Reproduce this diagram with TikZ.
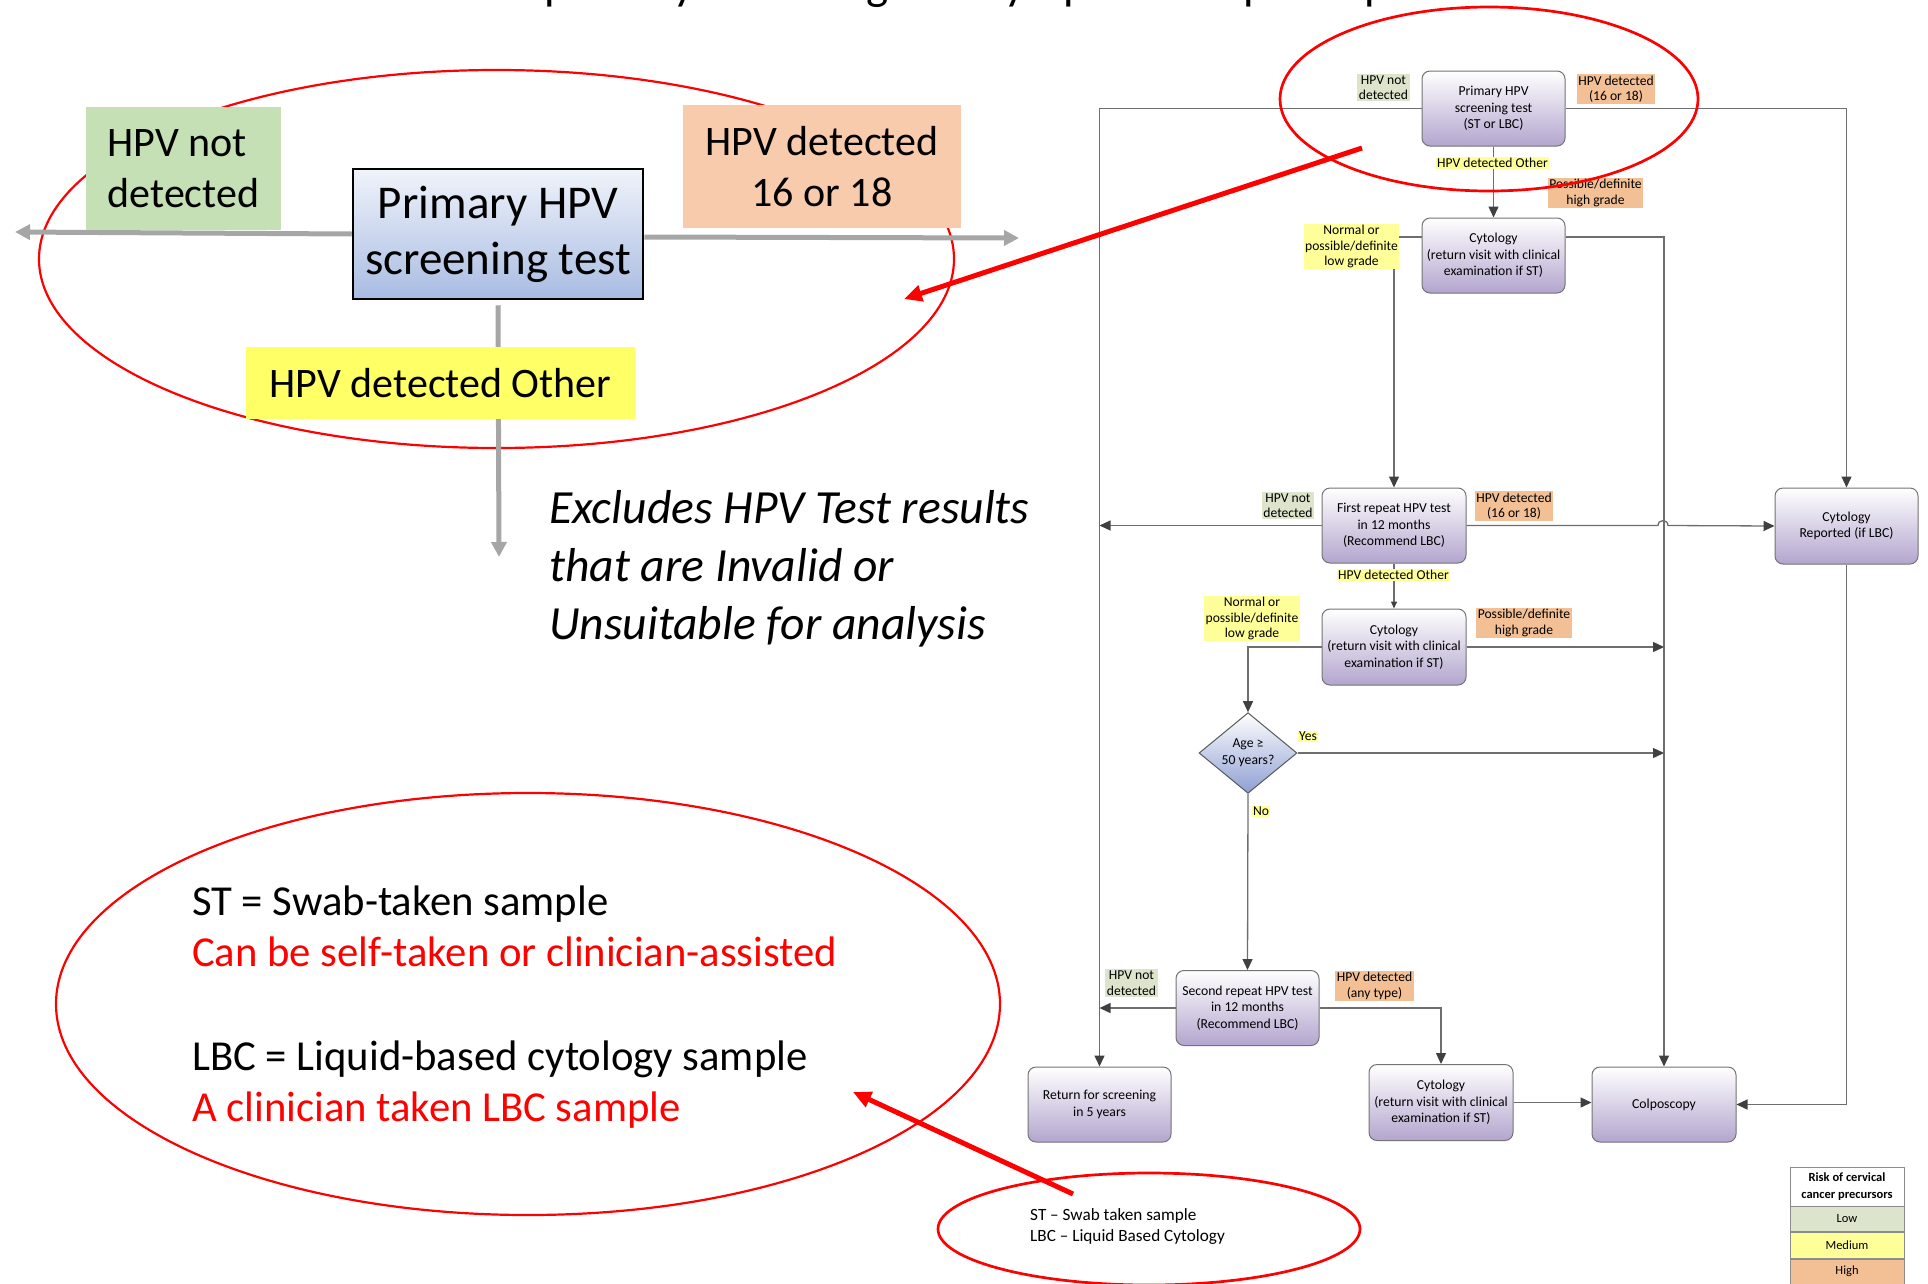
\documentclass[tikz,border=0pt]{standalone}
\usepackage{fontspec}
\setmainfont{Carlito}
\usetikzlibrary{arrows.meta,shapes.geometric}

\definecolor{lowc}{HTML}{DCE4CB}
\definecolor{medc}{HTML}{FFFF99}
\definecolor{highc}{HTML}{F3BF95}
\definecolor{lavb}{HTML}{B3A5CE}
\definecolor{diab}{HTML}{8E9FD3}
\definecolor{flowc}{HTML}{6E6E6E}
\definecolor{tipc}{HTML}{404040}
\definecolor{gbig}{HTML}{A6A6A6}
\definecolor{bgreen}{HTML}{C5E0B4}
\definecolor{bpeach}{HTML}{F8CBAD}
\definecolor{byellow}{HTML}{FFFF66}
\definecolor{mtop}{HTML}{F0F3FA}
\definecolor{mbot}{HTML}{A8BCE2}

\newcommand\fsz[2]{\fontsize{#1}{#2}\selectfont}

\begin{document}
\begin{tikzpicture}[x=1pt,y=-1pt,
  fbox/.style={draw=black!55, line width=1pt, rounded corners=8pt,
    top color=white, bottom color=lavb, minimum width=143pt,
    minimum height=75pt, align=center, inner sep=1pt, font=\fsz{13.7}{16.5}},
  lab/.style={align=center, inner sep=1.5pt, font=\fsz{13.6}{15.5}},
  flowline/.style={draw=flowc, line width=1.3pt},
  flowarr/.style={flowline, -{Triangle[length=11pt,width=10pt,color=tipc]}},
  smallarr/.style={flowline, -{Triangle[length=7pt,width=6pt,color=tipc]}},
  bigbox/.style={align=center, inner sep=0pt, font=\fsz{42}{51}},
  greyarr/.style={draw=gbig, line width=5pt, -{Triangle[length=15pt,width=15pt]}},
  redarr/.style={draw=red, line width=5pt, -{Triangle[length=18pt,width=16pt]}},
  redring/.style={draw=red, line width=2.5pt},
  legcell/.style={draw=black!45, line width=0.8pt, minimum width=114pt, align=center, inner sep=0pt, font=\fsz{12.5}{16.5}}
]
\useasboundingbox (0,0) rectangle (1928,1283);

% title, mostly above the page edge
\node (ttl) [anchor=base, font=\fsz{47}{52}] at (962,-1) {HPV primary screening for asymptomatic participants};

% ---------- left summary ----------
\draw[redring, line width=2.2pt] (496.5,259) ellipse [x radius=457.5, y radius=189];

\node (mainbox) [draw=black, line width=2.5pt, top color=mtop, bottom color=mbot,
  minimum width=290pt, minimum height=130pt, align=center, inner sep=0pt,
  font=\fsz{47}{56}] at (498,234) {Primary HPV\\screening test};

\coordinate (gl) at (15,232);
\coordinate (gr) at (1019,238);
\coordinate (gd) at (499,557);
\draw[greyarr] (mainbox.west) -- (gl);
\draw[greyarr] (mainbox.east |- 0,237) -- (gr);
\draw[greyarr, shorten <=5pt] (mainbox.south) -- (gd);

\node (gnot) [bigbox, fill=bgreen, minimum width=195pt, minimum height=123pt, align=left] at (183.5,168.5) {HPV not\\detected};
\node (gdet) [bigbox, fill=bpeach, minimum width=278pt, minimum height=123pt] at (822,166.5) {HPV detected\\16 or 18};
\node (goth) [bigbox, fill=byellow, minimum width=389pt, minimum height=72pt] at (440.5,383) {HPV detected Other};

\node (excl) [anchor=north west, align=left, inner sep=0pt, font=\itshape\fsz{47.6}{58}] at (549,490)
  {Excludes HPV Test results\\that are Invalid or\\Unsuitable for analysis};

% ---------- abbreviations ----------
\draw[redring, line width=2.2pt] (528,1004) ellipse [x radius=472, y radius=211];
\node (abbr) [anchor=north west, align=left, inner sep=0pt, font=\fsz{42.7}{51}] at (192,886)
  {ST = Swab-taken sample\\
   \textcolor{red}{Can be self-taken or clinician-assisted}\\[53pt]
   LBC = Liquid-based cytology sample\\
   \textcolor{red}{A clinician taken LBC sample}};

% ---------- flowchart ----------
\node (prim) [fbox] at (1493.5,108.5) {Primary HPV\\screening test\\(ST or LBC)};
\node (cyt1) [fbox] at (1493.5,255.5) {Cytology\\(return visit with clinical\\examination if ST)};
\node (rep1) [fbox, minimum width=144pt] at (1394,525.5) {First repeat HPV test\\in 12 months\\(Recommend LBC)};
\node (cyt2) [fbox, minimum width=144pt, minimum height=76pt] at (1394,647) {Cytology\\(return visit with clinical\\examination if ST)};
\node (age) [diamond, draw=black!65, line width=1pt, top color=white, bottom color=diab,
  minimum width=98pt, minimum height=78pt, inner sep=0pt, align=center,
  font=\fsz{13.7}{17}] at (1248,753) {Age ≥\\50 years?};
\node (rep2) [fbox] at (1247.5,1008) {Second repeat HPV test\\in 12 months\\(Recommend LBC)};
\node (ret) [fbox] at (1099.5,1104.5) {Return for screening\\in 5 years};
\node (cyt3) [fbox, minimum width=144pt, minimum height=76pt] at (1441,1102.5) {Cytology\\(return visit with clinical\\examination if ST)};
\node (colp) [fbox, minimum width=144pt] at (1664,1104.5) {Colposcopy};
\node (crep) [fbox, minimum width=143pt, minimum height=76pt] at (1846.5,526) {Cytology\\Reported (if LBC)};

\coordinate (k1) at (0,237);
\coordinate (hopa) at (1658,525.5);
\coordinate (hopb) at (1668,525.5);

\draw[flowarr] (prim.west) -| (ret.north);
\draw[flowarr] (prim.east) -| (crep.north);
\draw[flowarr] (prim.south) -- (cyt1.north);
\draw[flowarr] (cyt1.east |- k1) -| (colp.north);
\draw[flowarr] (cyt1.west |- k1) -| (rep1.north);
\draw[flowarr] (rep1.west) -- (rep1.west -| ret.north);
\draw[flowarr] (rep1.east) -- (hopa) .. controls (1658,519) and (1668,519) .. (hopb) -- (crep.west);
\draw[smallarr] (rep1.south) -- (cyt2.north);
\draw[flowarr] (cyt2.east) -- (cyt2.east -| colp.north);
\draw[flowarr] (cyt2.west) -| (age.north);
\draw[flowarr] (age.east) -- (age.east -| colp.north);
\draw[flowarr] (age.south) -- (rep2.north);
\draw[flowarr] (rep2.west) -- (rep2.west -| ret.north);
\draw[flowarr] (rep2.east) -| (cyt3.north);
\draw[flowarr] (cyt3.east) -- (cyt3.east -| colp.west);
\draw[flowarr] (crep.south) |- (colp.east);

% outcome labels
\node (l1) [lab, fill=lowc] at (1383.5,87.5) {HPV not\\detected};
\node (l2) [lab, fill=highc] at (1616,89) {HPV detected\\(16 or 18)};
\node (l3) [lab, fill=medc] at (1492.5,163) {HPV detected Other};
\node (l4) [lab, fill=highc] at (1595.5,193) {Possible/definite\\high grade};
\node (l5) [lab, fill=medc] at (1351.5,246.5) {Normal or\\possible/definite\\low grade};
\node (l6) [lab, fill=lowc] at (1288,505.5) {HPV not\\detected};
\node (l7) [lab, fill=highc] at (1514,506) {HPV detected\\(16 or 18)};
\node (l8) [lab, fill=medc] at (1393.5,575) {HPV detected Other};
\node (l9) [lab, fill=highc] at (1524,623) {Possible/definite\\high grade};
\node (l10) [lab, fill=medc] at (1252,618.5) {Normal or\\possible/definite\\low grade};
\node (l11) [lab, fill=medc] at (1308,736.5) {Yes};
\node (l12) [lab, fill=medc] at (1261,811.5) {No};
\node (l13) [lab, fill=lowc] at (1131.5,983) {HPV not\\detected};
\node (l14) [lab, fill=highc] at (1374.5,986) {HPV detected\\(any type)};

% legend
\node (lgh) [legcell, fill=white, minimum height=39pt, font=\bfseries\fsz{12.5}{16.5}] at (1847,1186.5) {Risk of cervical\\cancer precursors};
\node (lgl) [legcell, fill=lowc, minimum height=25pt] at (1847,1218.5) {Low};
\node (lgm) [legcell, fill=medc, minimum height=26pt] at (1847,1245) {Medium};
\node (lgx) [legcell, fill=highc, minimum height=25pt] at (1847,1271.5) {High};

% ---------- annotations ----------
\draw[redring, line width=2.7pt] (1489,99) ellipse [x radius=209, y radius=92];
\draw[redring, line width=2.7pt] (1149,1229) ellipse [x radius=211, y radius=56];
\node (note) [anchor=north west, align=left, inner sep=0pt, font=\fsz{17.2}{21}] at (1030,1208)
  {ST – Swab taken sample\\LBC – Liquid Based Cytology};

\coordinate (ra1s) at (1362,148);
\coordinate (ra1e) at (904,299);
\coordinate (ra2s) at (1073,1194);
\coordinate (ra2e) at (853,1092);
\draw[redarr] (ra1s) -- (ra1e);
\draw[redarr] (ra2s) -- (ra2e);
\end{tikzpicture}
\end{document}
